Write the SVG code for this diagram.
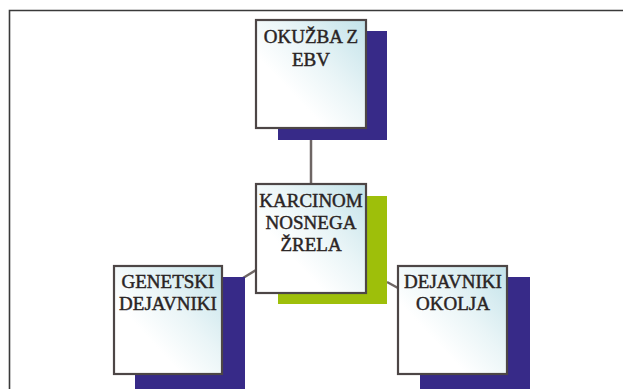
<svg xmlns="http://www.w3.org/2000/svg" width="623" height="389" viewBox="0 0 623 389">
<defs>
<linearGradient id="boxfill" x1="1" y1="0" x2="0.3" y2="0.65">
<stop offset="0" stop-color="#c2e2e9"/>
<stop offset="0.6" stop-color="#eaf5f7"/>
<stop offset="1" stop-color="#ffffff"/>
</linearGradient>
<style>
.box{fill:url(#boxfill);stroke:#4d4646;stroke-width:2.2}
.sh{fill:#372a88}
.shg{fill:#9ebf0a}
.conn{stroke:#6e6664;stroke-width:2.5;fill:none}
.t{font-family:"Liberation Serif","Times New Roman",serif;font-size:19px;fill:#2a2424;stroke:#2a2424;stroke-width:0.45;text-anchor:middle}
.frame{stroke:#3a3a3a;stroke-width:1.6;fill:none}
</style>
</defs>
<rect width="623" height="389" fill="#ffffff"/>
<path class="frame" d="M9.5,389 V10.5 H623"/>
<g id="connectors">
<line class="conn" x1="311" y1="140" x2="311" y2="184"/>
<line class="conn" x1="243" y1="278" x2="256" y2="270"/>
<line class="conn" x1="387" y1="282" x2="398" y2="288"/>
</g>
<g id="okuzba">
<rect class="sh" x="278" y="31" width="109" height="109"/>
<rect class="box" x="256" y="20" width="110" height="108"/>
<text class="t" x="311" y="43">OKUŽBA Z</text>
<text class="t" x="311" y="66">EBV</text>
</g>
<g id="karcinom">
<rect class="shg" x="278" y="196" width="109" height="108"/>
<rect class="box" x="256" y="184" width="110" height="109"/>
<text class="t" x="311" y="207">KARCINOM</text>
<text class="t" x="311" y="229">NOSNEGA</text>
<text class="t" x="311" y="251">ŽRELA</text>
</g>
<g id="genetski">
<rect class="sh" x="135" y="277" width="110" height="112"/>
<rect class="box" x="114" y="266" width="108" height="108"/>
<text class="t" x="168" y="288">GENETSKI</text>
<text class="t" x="168" y="310">DEJAVNIKI</text>
</g>
<g id="okolja">
<rect class="sh" x="420" y="277" width="110" height="112"/>
<rect class="box" x="398" y="266" width="109" height="108"/>
<text class="t" x="453" y="288">DEJAVNIKI</text>
<text class="t" x="453" y="310">OKOLJA</text>
</g>
</svg>
